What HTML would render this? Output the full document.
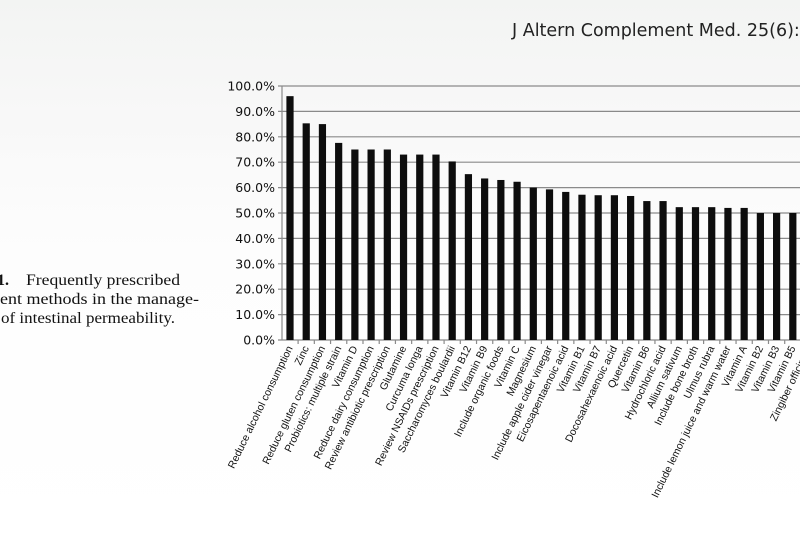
<!DOCTYPE html>
<html><head><meta charset="utf-8"><style>
html,body{margin:0;padding:0;width:800px;height:533px;overflow:hidden;background:linear-gradient(#f3f4f3 0px,#f8f8f8 120px,#fdfdfd 250px,#fff 533px);}
</style></head><body>
<svg width="800" height="533" xmlns="http://www.w3.org/2000/svg" style="position:absolute;left:0;top:0">
<text x="512" y="36" font-family="DejaVu Sans, sans-serif" font-size="17.5" fill="#222">J Altern Complement Med. 25(6):</text>
<g font-family="Liberation Serif, serif" font-size="16" fill="#111">
<text x="-3" y="285" font-weight="bold">1.</text>
<text x="26" y="285" textLength="154" lengthAdjust="spacingAndGlyphs">Frequently prescribed</text>
<text x="0" y="304" textLength="199" lengthAdjust="spacingAndGlyphs">ent methods in the manage-</text>
<text x="1" y="323" textLength="174" lengthAdjust="spacingAndGlyphs">of intestinal permeability.</text>
</g>
<g id="grid" stroke="#8a8a8a" stroke-width="1.2"></g>
<g id="bars" fill="#0d0d0d"></g>
<g id="yl" font-family="DejaVu Sans, sans-serif" font-size="12.5" fill="#111" text-anchor="end"></g>
<g id="xl" font-family="Liberation Sans, sans-serif" font-size="10.5" fill="#111" text-anchor="end"></g>
</svg>
<script>
const ns="http://www.w3.org/2000/svg";
function el(t,a,p,txt){const e=document.createElementNS(ns,t);for(const k in a)e.setAttribute(k,a[k]);if(txt)e.textContent=txt;document.getElementById(p).appendChild(e);}
const y0=340,py=2.54,x0=282;
for(let i=0;i<=10;i++){const y=y0-i*10*py;el('line',{x1:x0-4,x2:800,y1:y,y2:y},'grid');el('text',{x:275,y:y+4.5},'yl',(i*10).toFixed(1)+'%');}
el('line',{x1:x0,x2:x0,y1:y0-100*py,y2:y0},'grid');
const L=["Reduce alcohol consumption","Zinc","Reduce gluten consumption","Probiotics: multiple strain","Vitamin D","Reduce dairy consumption","Review antibiotic prescription","Glutamine","Curcuma longa","Review NSAIDs prescription","Saccharomyces boulardii","Vitamin B12","Vitamin B9","Include organic foods","Vitamin C","Magnesium","Include apple cider vinegar","Eicosapentaenoic acid","Vitamin B1","Vitamin B7","Docosahexaenoic acid","Quercetin","Vitamin B6","Hydrochloric acid","Allium sativum","Include bone broth","Ulmus rubra","Include lemon juice and warm water","Vitamin A","Vitamin B2","Vitamin B3","Vitamin B5","Zingiber officinale"];
const V=[96,85.3,85,77.6,75,75,75,73,73,73,70.3,65.3,63.6,63,62.3,60,59.3,58.3,57.2,57,57,56.7,54.7,54.7,52.3,52.3,52.3,52,52,50,50,50,50];
const dx=16.22;
L.forEach((s,i)=>{const cx=290+i*dx;const h=V[i]*py;
el('rect',{x:cx-3.6,y:y0-h,width:7.2,height:h},'bars');
el('line',{x1:cx+dx/2,x2:cx+dx/2,y1:y0,y2:y0+4},'grid');
el('text',{transform:`translate(${cx+3},${y0+8}) rotate(-64)`},'xl',s);});
</script>
</body></html>
